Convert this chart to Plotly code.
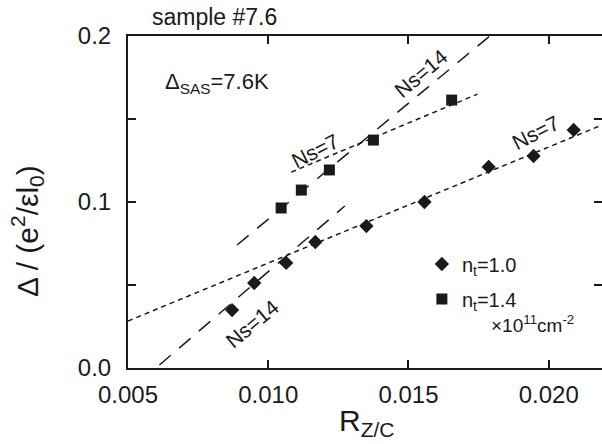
import plotly.graph_objects as go

# Data
rzc_nt10 = [0.00871, 0.0095, 0.01064, 0.01168, 0.0135, 0.01557, 0.01786, 0.01946, 0.02089]
gap_nt10 = [0.0349, 0.0512, 0.0633, 0.0759, 0.0855, 0.1000, 0.1211, 0.1277, 0.1434]
rzc_nt14 = [0.01046, 0.01118, 0.01218, 0.01375, 0.01654]
gap_nt14 = [0.0964, 0.1072, 0.1193, 0.1373, 0.1614]

# Fit lines (endpoints)
ns7_lo_x = [0.005, 0.0219]
ns7_lo_y = [0.0283, 0.1464]
ns7_hi_x = [0.01082, 0.01746]
ns7_hi_y = [0.118, 0.165]
ns14_lo_x = [0.00612, 0.01273]
ns14_lo_y = [0.0018, 0.0976]
ns14_hi_x = [0.00889, 0.0179]
ns14_hi_y = [0.0741, 0.2]

xticks = [0.005, 0.010, 0.015, 0.020]
yticks = [0.0, 0.05, 0.1, 0.15, 0.2]
ytext = ["0.0", "", "0.1", "", "0.2"]

FONT = "Liberation Sans, Arial, Helvetica, sans-serif"
INK = "#1a1a1a"
fig = go.Figure()

short = "5px,4px"
long_ = "15px,11px"
for xs, ys, d in [(ns7_lo_x, ns7_lo_y, short), (ns7_hi_x, ns7_hi_y, short),
                  (ns14_lo_x, ns14_lo_y, long_), (ns14_hi_x, ns14_hi_y, long_)]:
    fig.add_trace(go.Scatter(x=xs, y=ys, mode="lines", showlegend=False,
                             line=dict(color=INK, width=1.5, dash=d), hoverinfo="skip"))

fig.add_trace(go.Scatter(x=rzc_nt10, y=gap_nt10, mode="markers", name="n<sub>t</sub>=1.0",
                         legendgroup="a", marker=dict(symbol="diamond", size=11, color=INK)))
fig.add_trace(go.Scatter(x=rzc_nt14, y=gap_nt14, mode="markers", name="n<sub>t</sub>=1.4",
                         legendgroup="b", marker=dict(symbol="square", size=11, color=INK)))
# empty trace that carries the right-hand tick axis (its line is cut off in the original)
fig.add_trace(go.Scatter(x=[], y=[], yaxis="y2", showlegend=False, hoverinfo="skip"))

ann = [
    dict(x=0.01543, y=0.1777, text="Ns=14", textangle=-40),
    dict(x=0.01168, y=0.1313, text="Ns=7", textangle=-27),
    dict(x=0.01954, y=0.1416, text="Ns=7", textangle=-27),
    dict(x=0.00943, y=0.0271, text="Ns=14", textangle=-40),
]
for a in ann:
    fig.add_annotation(xref="x", yref="y", showarrow=False,
                       font=dict(size=21, color=INK, family=FONT), **a)

fig.add_annotation(xref="paper", yref="paper", x=0.0464, y=1.012, xanchor="left", yanchor="bottom",
                   showarrow=False, text="sample #7.6",
                   font=dict(size=23, color=INK, family=FONT))
fig.add_annotation(xref="x", yref="y", x=0.00625, y=0.1717, xanchor="left", showarrow=False,
                   text="Δ<sub>SAS</sub>=7.6K", font=dict(size=22, color=INK, family=FONT))
fig.add_annotation(xref="x", yref="y", x=0.01786, y=0.0265, xanchor="left", showarrow=False,
                   text="×10<sup>11</sup>cm<sup>-2</sup>", font=dict(size=19, color=INK, family=FONT))

# axis titles
fig.add_annotation(xref="paper", yref="paper", x=-0.213, y=0.4126, xanchor="center", yanchor="middle",
                   textangle=-90, showarrow=False,
                   text="Δ / (e<sup>2</sup>/εl<sub>0</sub>)", font=dict(size=30, color=INK, family=FONT))
fig.add_annotation(xref="paper", yref="paper", x=0.504, y=-0.226, xanchor="center", yanchor="bottom",
                   showarrow=False,
                   text="R<sub>Z/C</sub>", font=dict(size=30, color=INK, family=FONT))

tick_style = dict(ticks="inside", ticklen=8, tickwidth=1.5, tickcolor=INK,
                  showgrid=False, zeroline=False, automargin=False,
                  tickfont=dict(size=24, color=INK, family=FONT))

fig.update_layout(
    xaxis=dict(range=[0.005, 0.0219], tickvals=xticks, ticktext=[f"{v:.3f}" for v in xticks],
               ticklabelstandoff=4, showline=True, linecolor=INK, linewidth=2, mirror="ticks",
               **tick_style),
    yaxis=dict(range=[0, 0.2], tickvals=yticks, ticktext=ytext, ticklabelstandoff=10,
               showline=True, linecolor=INK, linewidth=2, mirror=False, **tick_style),
    yaxis2=dict(range=[0, 0.2], tickvals=yticks, showticklabels=False, overlaying="y",
                side="right", showline=False, **tick_style),
)

fig.update_layout(width=602, height=444, margin=dict(l=128, r=0, t=36, b=76),
                  plot_bgcolor="white", paper_bgcolor="white",
                  font=dict(family=FONT, color=INK),
                  legend=dict(x=0.62, y=0.372, xanchor="left", yanchor="top",
                              bgcolor="rgba(0,0,0,0)", font=dict(size=20, family=FONT, color=INK),
                              itemwidth=30, tracegroupgap=6))
# remove the page's default body margin so the figure fills the window exactly
fig.write_html("out.html", config={"displayModeBar": False},
               post_script="document.body.style.margin='0';document.body.style.overflow='hidden';")
